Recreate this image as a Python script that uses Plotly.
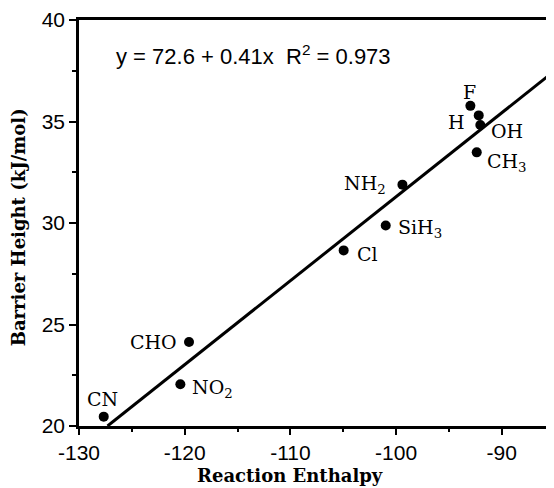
import plotly.graph_objects as go

# ---- data ----
species = ["F", "H", "OH", "CH<sub>3</sub>", "NH<sub>2</sub>", "SiH<sub>3</sub>",
           "Cl", "CHO", "NO<sub>2</sub>", "CN"]
enthalpy = [-92.97, -92.18, -92.03, -92.37, -99.40, -100.98, -104.96, -119.59, -120.41, -127.66]
barrier = [35.77, 35.30, 34.83, 33.48, 31.89, 29.88, 28.65, 24.14, 22.06, 20.46]

fit_x = [-127.3, -85.0]
fit_y = [20.0, 37.5]

equation_text = "y = 72.6 + 0.41x  R<sup>2</sup> = 0.973"
x_title = "<b>Reaction Enthalpy</b>"
y_title = "<b>Barrier Height (kJ/mol)</b>"

x_ticks = [-130, -120, -110, -100, -90]
x_ticktext = ["-130", "-120", "-110", "-100", "-90"]
y_ticks = [20, 25, 30, 35, 40]

# label placement (styling): anchor, x shift, y shift in px
label_style = {
    "F": ("center", -1, 14),
    "H": ("right", -12, -7),
    "OH": ("left", 9, -6),
    "CH<sub>3</sub>": ("left", 8, -10),
    "NH<sub>2</sub>": ("right", -14, 0),
    "SiH<sub>3</sub>": ("left", 10, -3),
    "Cl": ("left", 11, -4),
    "CHO": ("right", -10, 0),
    "NO<sub>2</sub>": ("left", 10, -4),
    "CN": ("center", -1, 18),
}

serif = "DejaVu Serif"
sans = "Liberation Sans, Arial, sans-serif"

fig = go.Figure()
fig.add_trace(go.Scatter(x=fit_x, y=fit_y, mode="lines",
                         line=dict(color="black", width=3), showlegend=False))
fig.add_trace(go.Scatter(x=enthalpy, y=barrier, mode="markers",
                         marker=dict(color="black", size=10), showlegend=False))

for name, xv, yv in zip(species, enthalpy, barrier):
    anchor, dx, dy = label_style[name]
    fig.add_annotation(x=xv, y=yv, text=name, showarrow=False,
                       xanchor=anchor, yanchor="middle", xshift=dx, yshift=dy,
                       font=dict(family=serif, size=19, color="black"))

fig.add_annotation(x=-126.7, y=38.28, text=equation_text, showarrow=False,
                   xanchor="left", yanchor="middle",
                   font=dict(family=sans, size=22, color="black"))

fig.add_annotation(xref="paper", yref="paper", x=0.444, y=-0.121, text=x_title,
                   showarrow=False, xanchor="center", yanchor="middle",
                   font=dict(family=serif, size=18, color="black"))
fig.add_annotation(xref="paper", yref="paper", x=-0.128, y=0.49, text=y_title,
                   showarrow=False, xanchor="center", yanchor="middle", textangle=-90,
                   font=dict(family=serif, size=18, color="black"))

# the page body adds an 8 px offset, so the figure is 8 px smaller on each axis
fig.update_layout(
    width=546, height=480,
    margin=dict(l=71, r=0, t=12, b=62),
    paper_bgcolor="white", plot_bgcolor="white",
    xaxis=dict(range=[-130, -85.06], tickvals=x_ticks, ticktext=x_ticktext,
               showgrid=False, zeroline=False, automargin=False,
               showline=True, linecolor="black", linewidth=2.5, mirror=True,
               ticks="outside", ticklen=6, tickwidth=2, tickcolor="black",
               minor=dict(dtick=5, ticks="outside", ticklen=3, tickwidth=1.5, tickcolor="black"),
               tickfont=dict(family=sans, size=21, color="black")),
    yaxis=dict(range=[20, 40], tickvals=y_ticks, showgrid=False, zeroline=False,
               automargin=False,
               showline=True, linecolor="black", linewidth=2.5,
               ticks="outside", ticklen=7, tickwidth=2, tickcolor="black",
               minor=dict(dtick=2.5, ticks="outside", ticklen=4, tickwidth=1.5, tickcolor="black"),
               tickfont=dict(family=sans, size=21, color="black")),
)

fig.write_html("out.html")
